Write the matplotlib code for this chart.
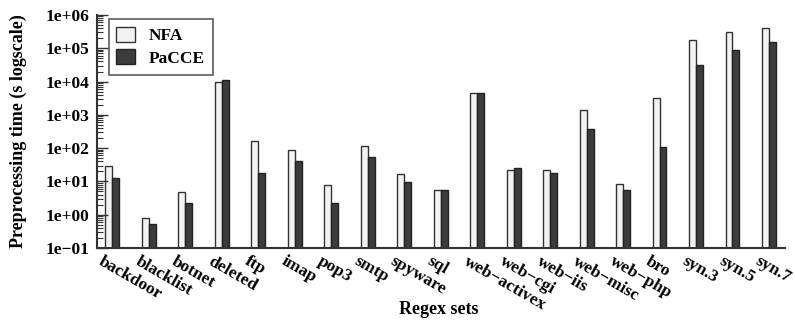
import numpy as np
import matplotlib.pyplot as plt
import matplotlib.transforms as mtransforms
from matplotlib.ticker import LogLocator, NullFormatter

plt.rcParams['font.family'] = 'serif'
plt.rcParams['font.serif'] = ['Liberation Serif', 'DejaVu Serif']
plt.rcParams['font.weight'] = 'bold'
plt.rcParams['font.size'] = 12.5

sets = ["backdoor", "blacklist", "botnet", "deleted", "ftp", "imap", "pop3",
        "smtp", "spyware", "sql", "web\u2212activex", "web\u2212cgi", "web\u2212iis",
        "web\u2212misc", "web\u2212php", "bro", "syn.3", "syn.5", "syn.7"]
nfa = [29, 0.72, 4.8, 10000, 158, 85, 7.6, 115, 17, 5.5, 4600, 22,
       22.4, 1390, 8.3, 3250, 178000, 300000, 400000]
pacce = [12.6, 0.42, 2.1, 11500, 18, 40, 2.1, 54, 9.4, 5.3, 4600, 26,
         18, 365, 5.3, 105, 31000, 87000, 155000]
ytick_vals = [0.1, 1, 10, 100, 1e3, 1e4, 1e5, 1e6]
ytick_labels = ['1e\u221201', '1e+00', '1e+01', '1e+02', '1e+03',
                '1e+04', '1e+05', '1e+06']

fig = plt.figure(figsize=(7.95, 3.25), dpi=100)
ax = fig.add_axes([0.122, 0.237, 0.865, 0.717])

x = np.arange(len(sets))
w = 0.19
ax.bar(x - w / 2, nfa, w, bottom=0.1, color='#f3f3f3', edgecolor='#333333',
       linewidth=1.0, label='NFA')
ax.bar(x + w / 2, pacce, w, bottom=0.1, color='#3c3c3c', edgecolor='#222222',
       linewidth=1.0, label='PaCCE')

ax.set_yscale('log')
ax.set_ylim(0.1, 1e6)
ax.set_xlim(-0.42, len(sets) - 1 + 0.43)

ax.set_yticks(ytick_vals)
ax.set_yticklabels(ytick_labels)
ax.yaxis.set_minor_locator(LogLocator(base=10, subs=np.arange(2, 10)))
ax.yaxis.set_minor_formatter(NullFormatter())
ax.tick_params(axis='y', which='major', direction='in', length=8, width=1,
               color='#333333', pad=5.5)
ax.tick_params(axis='y', which='minor', direction='in', length=4, width=0.8,
               color='#333333')

ax.set_xticks(x)
ax.set_xticklabels(sets, rotation=-30, ha='left', rotation_mode='anchor')
ax.tick_params(axis='x', length=0, pad=4)
shift = mtransforms.ScaledTranslation(-6 / 72, 0, fig.dpi_scale_trans)
for lab in ax.get_xticklabels():
    lab.set_transform(lab.get_transform() + shift)

for s in ['top', 'right']:
    ax.spines[s].set_visible(False)
for s in ['left', 'bottom']:
    ax.spines[s].set_linewidth(1.5)
    ax.spines[s].set_color('#333333')

ax.set_ylabel('Preprocessing time (s logscale)', fontweight='bold', fontsize=13)
ax.yaxis.set_label_coords(-0.102, 0.5)
ax.set_xlabel('Regex sets', fontweight='bold', fontsize=13)
ax.xaxis.set_label_coords(0.497, -0.228)

leg = ax.legend(loc='upper left', bbox_to_anchor=(0.017, 0.983), borderaxespad=0,
                fancybox=False, edgecolor='#333333', handlelength=1.05,
                handleheight=0.95, borderpad=0.45, labelspacing=0.3,
                handletextpad=0.8)
leg.get_frame().set_linewidth(1.2)

plt.savefig('out.png', dpi=100)
